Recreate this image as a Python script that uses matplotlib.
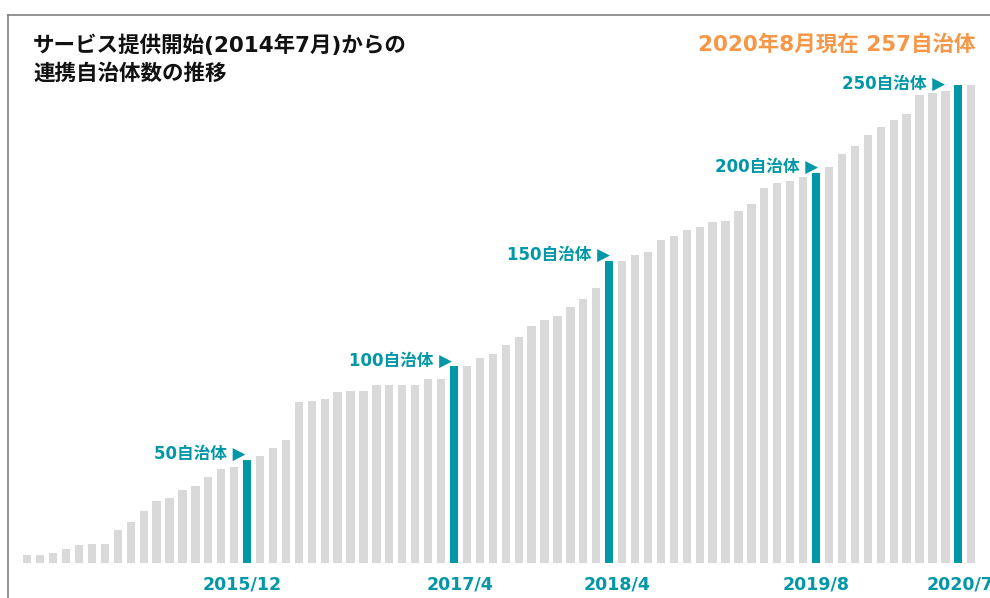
import matplotlib.pyplot as plt
import numpy as np
import pandas as pd
from matplotlib.lines import Line2D

# Latin glyphs from DejaVu (Verdana-like, close to Meiryo), kana/kanji from Noto CJK
plt.rcParams['font.family'] = ['DejaVu Sans', 'Noto Sans CJK JP']

# monthly number of partner municipalities, 2014/7 .. 2020/8
months = pd.period_range('2014-07', '2020-08', freq='M')
counts = [
    4, 4, 5.4, 7.4, 9.3, 10.2, 10.2, 17.6, 21.7, 27.8, 33.2, 34.9,
    38.9, 41, 46.2, 50.2, 51.2, 55.4, 57.5, 61.5, 65.8, 86.2, 87.1, 88.2,
    91.6, 92.3, 92.3, 95.5, 95.5, 95.5, 95.5, 98.8, 98.8, 105.9, 105.9, 109.9,
    112, 117.2, 121.2, 127.3, 130.5, 132.5, 137.6, 141.6, 147.7, 162.2, 162.2, 165.3,
    167.2, 173.5, 175.6, 178.7, 180.5, 183, 183.7, 188.9, 193, 201.3, 204.1, 205.4,
    207.4, 209.4, 212.6, 219.7, 223.9, 229.9, 234.2, 238.2, 241.2, 251.6, 252.5, 253.4,
    257, 257,
]
milestones = ['2015-12', '2017-04', '2018-04', '2019-08', '2020-07']
milestone_labels = ['50自治体', '100自治体', '150自治体', '200自治体', '250自治体']
tick_labels = ['2015/12', '2017/4', '2018/4', '2019/8', '2020/7']

GRAY = '#d9d9d9'
TEAL = '#0097a7'
ORANGE = '#f79646'

W, H = 990, 598
fig = plt.figure(figsize=(W / 100, H / 100), dpi=100)
ax = fig.add_axes([0, (H - 562.7) / H, 1, 562.7 / H])

x = np.arange(len(months))
idx = [months.get_loc(pd.Period(m, 'M')) for m in milestones]
colors = [TEAL if i in idx else GRAY for i in x]
ax.bar(x, counts, width=0.64, color=colors)
ax.set_xlim(-2.11, 74.45)
ax.set_ylim(0, 302.5)
ax.axis('off')

# milestone callouts
lab_dx = [-0.15, -0.18, 0.06, 0.18, -1.03]
lab_dy = [3, 2.5, 3, 3.5, 0.4]
for k, i in enumerate(idx):
    ax.text(i + lab_dx[k], counts[i] + lab_dy[k], milestone_labels[k] + ' ▶',
            ha='right', va='center', fontsize=12, fontweight='bold', color=TEAL)

tick_dx = [-0.35, 0.5, 0.6, 0.0, 0.1]
for k, i in enumerate(idx):
    ax.text(i + tick_dx[k], -11.5, tick_labels[k], ha='center', va='center',
            fontsize=12.5, fontweight='bold', color=TEAL, clip_on=False)

fig.text(33 / W, 1 - 45.5 / H, 'サービス提供開始(2014年7月)からの', ha='left', va='center',
         fontsize=15.5, fontweight='bold', color='#111111')
fig.text(33 / W, 1 - 73.5 / H, '連携自治体数の推移', ha='left', va='center',
         fontsize=15.5, fontweight='bold', color='#111111')
fig.text(975 / W, 1 - 44.5 / H, '2020年8月現在 257自治体', ha='right', va='center',
         fontsize=15.5, fontweight='bold', color=ORANGE)

# frame
fig.add_artist(Line2D([8 / W, 1], [1 - 15 / H] * 2, color='#808080', lw=1.2))
fig.add_artist(Line2D([8 / W] * 2, [0, 1 - 15 / H], color='#808080', lw=1.2))

fig.savefig('out.png', dpi=100)
